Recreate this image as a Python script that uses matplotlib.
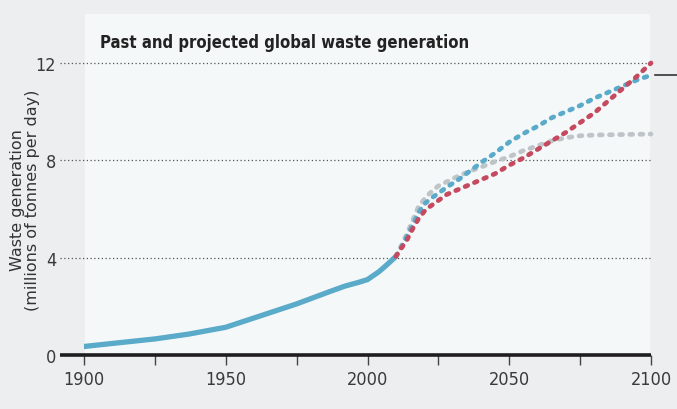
import matplotlib.pyplot as plt
from matplotlib.patches import Rectangle

# historical (solid)
hist_years = [1900, 1912, 1925, 1937, 1950, 1962, 1975, 1987, 1992, 1997,
              2000, 2002, 2004, 2006, 2008, 2010]
hist_vals = [0.35, 0.5, 0.66, 0.86, 1.14, 1.6, 2.1, 2.62, 2.83, 2.99,
             3.1, 3.26, 3.42, 3.62, 3.83, 4.05]

# projections (dashed)
proj_years = [2010, 2012, 2014, 2016, 2018, 2020, 2022, 2025, 2028, 2032, 2036,
              2040, 2045, 2050, 2055, 2060, 2065, 2070, 2075, 2080, 2085, 2090,
              2095, 2100]
proj_gray = [4.05, 4.5, 5.0, 5.55, 6.1, 6.4, 6.65, 6.95, 7.12, 7.35, 7.55,
             7.72, 7.95, 8.15, 8.4, 8.6, 8.8, 8.93, 9.01, 9.04, 9.05, 9.06,
             9.07, 9.08]
proj_blue = [4.05, 4.45, 4.9, 5.35, 5.85, 6.2, 6.4, 6.65, 6.9, 7.2, 7.55,
             7.9, 8.3, 8.75, 9.1, 9.4, 9.75, 10.0, 10.25, 10.55, 10.8, 11.05,
             11.3, 11.5]
proj_red = [4.05, 4.4, 4.75, 5.2, 5.6, 5.9, 6.1, 6.35, 6.6, 6.8, 7.0,
            7.2, 7.45, 7.8, 8.1, 8.45, 8.8, 9.15, 9.55, 9.95, 10.45, 10.95,
            11.45, 12.0]

yticks = [0, 4, 8, 12]
xticks = [1900, 1950, 2000, 2050, 2100]
xminor = [1925, 1975, 2025, 2075]

BLUE = '#5aaaca'
RED = '#c5495f'
GRAY = '#bec4c7'
BG = '#eceeef'
PANEL = '#f5f8f9'

fig = plt.figure(figsize=(6.77, 4.10), dpi=100, facecolor=BG)
ax = fig.add_axes([84/677, 1-356/410, 567/677, 292/410])
ax.set_facecolor('none')
ax.add_patch(Rectangle((85/677, 1-355/410), 565/677, 340/410,
                       transform=fig.transFigure, facecolor=PANEL,
                       edgecolor='none', zorder=0, clip_on=False))
ax.set_xlim(1900, 2100)
ax.set_ylim(0, 12)

# gridlines and baseline
for y in yticks[1:]:
    ax.plot([1891.5, 2100], [y, y], color='#555555', lw=0.9,
            linestyle=(0, (1, 2)), clip_on=False, zorder=1)
ax.plot([1891.5, 2100], [0, 0], color='#1e1e1e', lw=2.6, clip_on=False,
        solid_capstyle='butt', zorder=5)

ax.plot(hist_years, hist_vals, color=BLUE, lw=3.8, solid_capstyle='round',
        solid_joinstyle='round', zorder=3)
dash = (0, (0.6, 1.55))
ax.plot(proj_years, proj_gray, color=GRAY, lw=3.4, linestyle=dash,
        dash_capstyle='round', clip_on=False, zorder=2)
ax.plot(proj_years, proj_blue, color=BLUE, lw=3.4, linestyle=dash,
        dash_capstyle='round', clip_on=False, zorder=3)
ax.plot(proj_years, proj_red, color=RED, lw=3.4, linestyle=dash,
        dash_capstyle='round', clip_on=False, zorder=4)

# cut-off pointer line at right edge
ax.plot([2101.5, 2110], [11.5, 11.5], color='#333333', lw=1.2, clip_on=False)

for s in ax.spines.values():
    s.set_visible(False)
ax.set_yticks(yticks)
ax.set_yticklabels([str(v) for v in yticks], fontsize=13, fontstretch='condensed',
                   color='#3a3a3a')
ax.tick_params(axis='y', length=0, pad=20)
ax.set_xticks(xticks)
ax.set_xticks(xminor, minor=True)
ax.set_xticklabels([str(v) for v in xticks], fontsize=13, fontstretch='condensed',
                   color='#3a3a3a')
ax.tick_params(axis='x', which='both', length=7, width=1, color='#444444',
               direction='out', pad=4)

ax.text(100/677, 1-43/410, 'Past and projected global waste generation',
        transform=fig.transFigure, fontstretch='condensed', fontweight='bold',
        fontsize=12, color='#222222', va='center', ha='left')
fig.text(0.037, 0.512, 'Waste generation\n(millions of tonnes per day)',
         rotation=90, ha='center', va='center', multialignment='center',
         fontsize=11.5, color='#333333', linespacing=1.05)

fig.savefig('out.png', dpi=100, facecolor=BG)
